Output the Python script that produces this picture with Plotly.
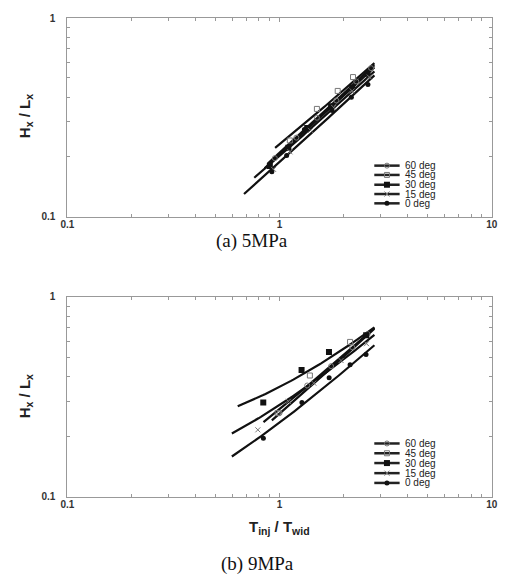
import numpy as np
import plotly.graph_objects as go

W, H = 505, 581

labels = ["60 deg", "45 deg", "30 deg", "15 deg", "0 deg"]

# ---- 5 MPa: measured H_x/L_x against T_inj/T_wid ----
x5_60 = [0.95, 1.20, 1.50, 1.85, 2.30, 2.70]
y5_60 = [0.197, 0.250, 0.315, 0.385, 0.480, 0.560]
x5_45 = [1.118, 1.50, 1.88, 2.22]
y5_45 = [0.242, 0.349, 0.430, 0.505]
x5_30 = [0.90, 1.10, 1.35, 1.75, 2.20, 2.60]
y5_30 = [0.180, 0.222, 0.280, 0.360, 0.447, 0.525]
x5_15 = [0.937, 1.12, 1.40, 1.80, 2.20, 2.65]
y5_15 = [0.173, 0.212, 0.272, 0.355, 0.430, 0.505]
x5_0 = [0.92, 1.08, 1.31, 1.77, 2.18, 2.61]
y5_0 = [0.168, 0.203, 0.275, 0.343, 0.399, 0.464]

# linear trend lines y = a + b*x (order follows labels)
fit5_a = [0.004, 0.030, 0.005, 0.0143, 0.0065]
fit5_b = [0.2057, 0.2014, 0.200, 0.1877, 0.1816]
fit5_xmin = [0.88, 0.953, 0.85, 0.76, 0.68]
fit5_xmax = [2.80, 2.80, 2.80, 2.80, 2.80]

# ---- 9 MPa ----
x9_60 = [1.00, 1.35, 1.75, 2.20, 2.60]
y9_60 = [0.262, 0.360, 0.450, 0.560, 0.650]
x9_45 = [0.98, 1.39, 2.15]
y9_45 = [0.262, 0.404, 0.595]
x9_30 = [0.838, 1.27, 1.71, 2.56]
y9_30 = [0.296, 0.430, 0.530, 0.643]
x9_15 = [0.79, 1.10, 1.45, 1.95, 2.57]
y9_15 = [0.216, 0.300, 0.370, 0.480, 0.583]
x9_0 = [0.839, 1.275, 1.713, 2.15, 2.557]
y9_0 = [0.196, 0.296, 0.394, 0.457, 0.514]

fit9_a = [0.037, 0.020, 0.160, 0.0886, 0.047]
fit9_b = [0.237, 0.240, 0.194, 0.1987, 0.1877]
fit9_xmin = [0.84, 0.92, 0.635, 0.596, 0.596]
fit9_xmax = [2.80, 2.80, 2.80, 2.80, 2.80]

x_ticks = [0.1, 1, 10]
x_ticktext = ["0.1", "1", "10"]
y_ticks = [0.1, 1]
y_ticktext = ["0.1", "1"]

GRAY = "#777777"
INK = "#111111"
marker_styles = [
    dict(symbol="circle-open", size=5, color=GRAY, line=dict(width=1, color=GRAY)),
    dict(symbol="square-open", size=5, color=GRAY, line=dict(width=1, color=GRAY)),
    dict(symbol="square", size=6, color=INK),
    dict(symbol="x-thin-open", size=5, color=GRAY, line=dict(width=1, color=GRAY)),
    dict(symbol="circle", size=5, color=INK),
]

panels = [
    dict(xs=[x5_60, x5_45, x5_30, x5_15, x5_0], ys=[y5_60, y5_45, y5_30, y5_15, y5_0],
         a=fit5_a, b=fit5_b, xmin=fit5_xmin, xmax=fit5_xmax, xa="x", ya="y"),
    dict(xs=[x9_60, x9_45, x9_30, x9_15, x9_0], ys=[y9_60, y9_45, y9_30, y9_15, y9_0],
         a=fit9_a, b=fit9_b, xmin=fit9_xmin, xmax=fit9_xmax, xa="x2", ya="y2"),
]

fig = go.Figure()

for p in panels:
    for i in range(len(labels)):
        xf = np.geomspace(p["xmin"][i], p["xmax"][i], 60)
        fig.add_trace(go.Scatter(
            x=xf, y=p["a"][i] + p["b"][i] * xf, mode="lines",
            line=dict(color=INK, width=2.2), xaxis=p["xa"], yaxis=p["ya"],
            showlegend=False, hoverinfo="skip"))
    for i in range(len(labels)):
        fig.add_trace(go.Scatter(
            x=p["xs"][i], y=p["ys"][i], mode="markers", marker=marker_styles[i],
            name=labels[i], xaxis=p["xa"], yaxis=p["ya"], showlegend=False))

# key boxes drawn on a full-page overlay axis measured in pixels
legend_rows = [[163, 172.5, 182.5, 192, 201.5], [446.7, 456.7, 466.7, 477, 487]]
LX0, LX1, LXT = 377, 403, 406
for rows in legend_rows:
    for i, ry in enumerate(rows):
        fig.add_trace(go.Scatter(
            x=[LX0, LX1], y=[ry, ry], mode="lines", line=dict(color="#222222", width=2.5),
            xaxis="x3", yaxis="y3", showlegend=False, hoverinfo="skip"))
        fig.add_trace(go.Scatter(
            x=[(LX0 + LX1) / 2], y=[ry], mode="markers", marker=marker_styles[i],
            xaxis="x3", yaxis="y3", showlegend=False, hoverinfo="skip"))
        fig.add_annotation(x=LXT, y=ry, xref="x3", yref="y3", text=labels[i],
                           showarrow=False, xanchor="left", yanchor="middle",
                           font=dict(family="Liberation Sans", size=10, color="#222222"))

tickfont = dict(family="Liberation Sans", size=10, color="#333333", weight="bold")
minor_x = [0.2, 0.3, 0.4, 0.5, 0.6, 0.7, 0.8, 0.9, 2, 3, 4, 5, 6, 7, 8, 9]
minor_y = [0.2, 0.3, 0.4, 0.5, 0.6, 0.7, 0.8, 0.9]


def log_axis(domain, anchor, tv, tt, minor_vals, rng, standoff):
    return dict(
        type="log", domain=domain, anchor=anchor, range=rng,
        tickmode="array", tickvals=tv, ticktext=tt,
        ticks="inside", ticklen=4, tickcolor="#999999", tickwidth=1,
        minor=dict(tickmode="array", tickvals=minor_vals, ticks="inside",
                   ticklen=3, tickcolor="#999999", showgrid=False),
        showline=True, linecolor="#999999", linewidth=1, mirror="ticks",
        showgrid=False, zeroline=False, tickfont=tickfont,
        ticklabelstandoff=standoff, fixedrange=True,
    )


xd = [62 / W, 497.5 / W]
top_y = [1 - 215 / H, 1 - 12.5 / H]
bot_y = [1 - 501 / H, 1 - 297 / H]

fig.update_layout(
    width=W, height=H, margin=dict(l=0, r=0, t=0, b=0),
    paper_bgcolor="white", plot_bgcolor="rgba(0,0,0,0)", showlegend=False,
    xaxis=log_axis(xd, "y", x_ticks, x_ticktext, minor_x, [-1, 1], -2),
    yaxis=log_axis(top_y, "x", y_ticks, y_ticktext, minor_y, [-1, 0], 9),
    xaxis2=log_axis(xd, "y2", x_ticks, x_ticktext, minor_x, [-1, 1], -2),
    yaxis2=log_axis(bot_y, "x2", y_ticks, y_ticktext, minor_y, [-1, 0], 9),
    xaxis3=dict(domain=[0, 1], range=[0, W], visible=False, anchor="y3", fixedrange=True),
    yaxis3=dict(domain=[0, 1], range=[H, 0], visible=False, anchor="x3", fixedrange=True),
)

title_font = dict(family="Liberation Sans", size=15, color="#222222", weight="bold")
caption_font = dict(family="Liberation Serif", size=19, color="#111111")
for cy in [113, 399]:
    fig.add_annotation(x=19, y=cy, xref="x3", yref="y3", textangle=-90,
                       text="H<sub>x</sub> / L<sub>x</sub>", showarrow=False,
                       font=title_font)
fig.add_annotation(x=280, y=533, xref="x3", yref="y3",
                   text="T<sub>inj</sub> / T<sub>wid</sub>", showarrow=False,
                   font=title_font)
fig.add_annotation(x=251, y=240, xref="x3", yref="y3", text="(a) 5MPa",
                   showarrow=False, font=caption_font)
fig.add_annotation(x=257, y=570, xref="x3", yref="y3", text="(b) 9MPa",
                   showarrow=False, font=caption_font)

fig.write_html("out.html")
